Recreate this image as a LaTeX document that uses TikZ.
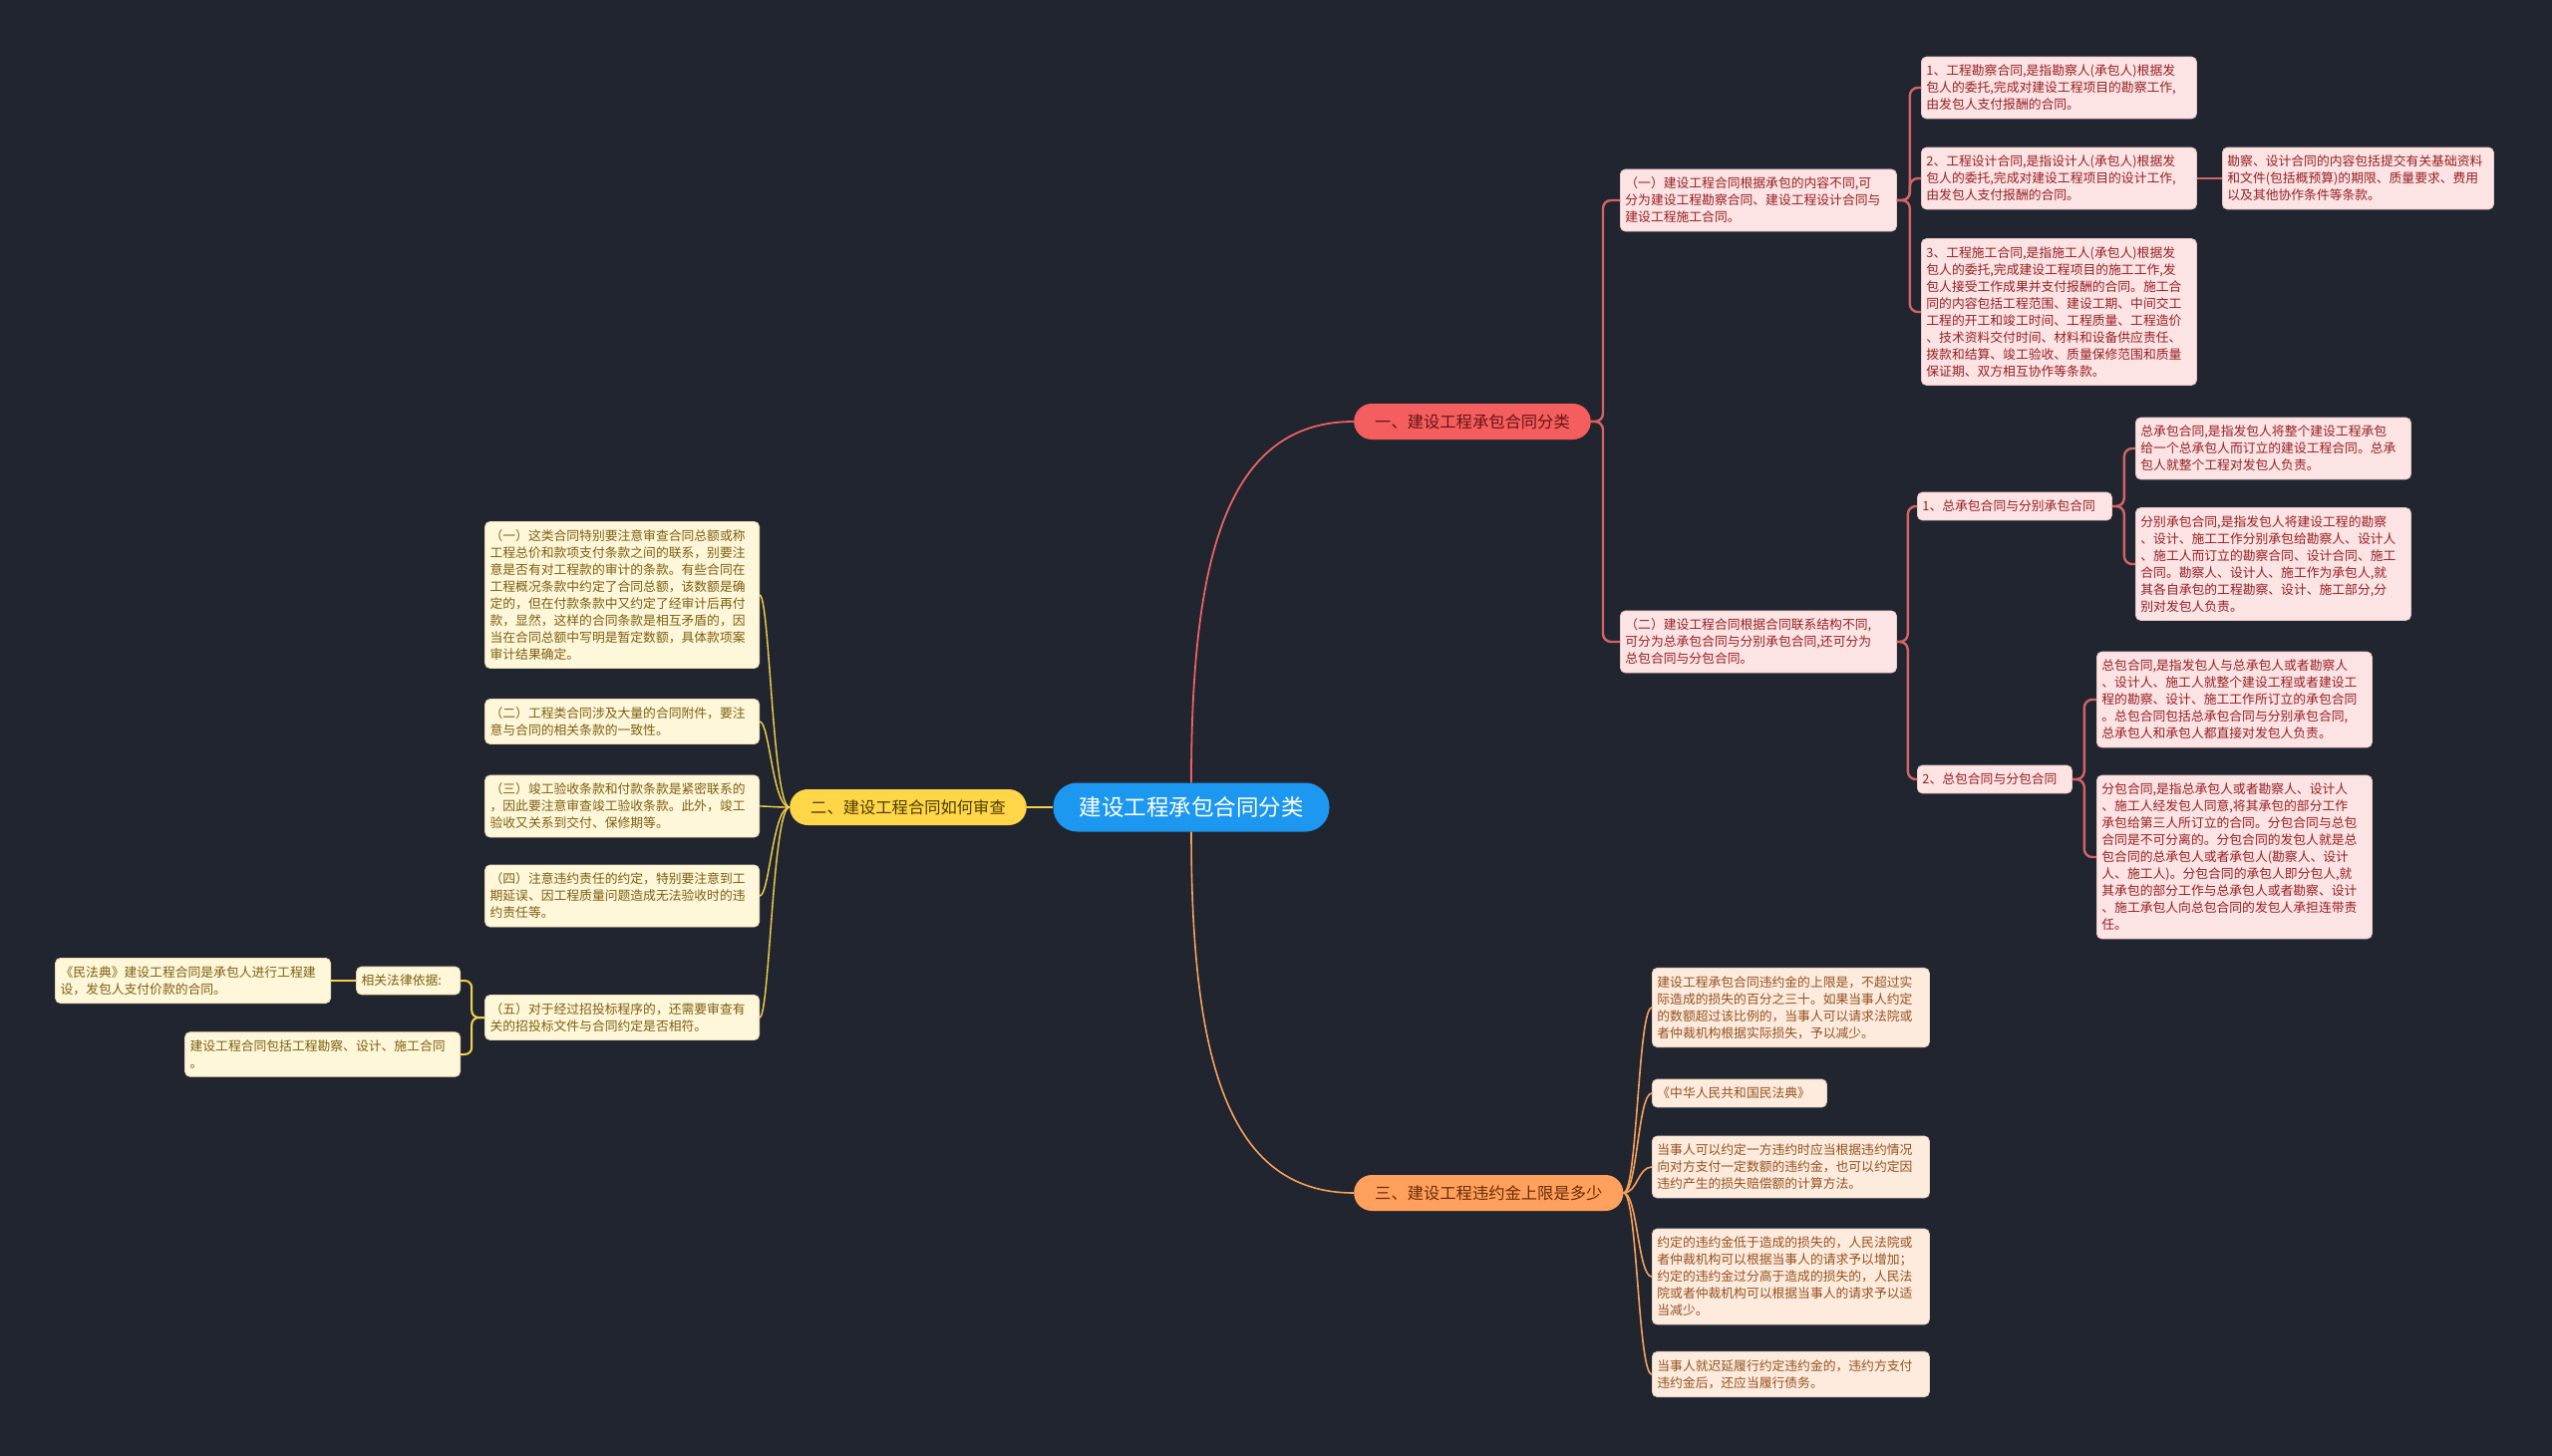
\documentclass[tikz,border=0pt]{standalone}
\usepackage{fontspec}
\setmainfont{Noto Sans CJK SC}
\definecolor{bg}{RGB}{33,37,48}
\definecolor{centerfill}{RGB}{28,152,240}
\definecolor{redpill}{RGB}{245,94,94}
\definecolor{yellowpill}{RGB}{255,214,72}
\definecolor{orangepill}{RGB}{255,160,92}
\definecolor{redpilltext}{RGB}{105,20,20}
\definecolor{yellowpilltext}{RGB}{80,60,0}
\definecolor{orangepilltext}{RGB}{105,45,5}
\definecolor{pinkfill}{RGB}{253,228,228}
\definecolor{pinkedge}{RGB}{235,200,200}
\definecolor{redtext}{RGB}{150,30,35}
\definecolor{creamfill}{RGB}{255,247,218}
\definecolor{creamedge}{RGB}{235,220,180}
\definecolor{yellowtext}{RGB}{125,95,15}
\definecolor{peachfill}{RGB}{253,236,222}
\definecolor{peachedge}{RGB}{235,210,190}
\definecolor{orangetext}{RGB}{150,80,30}
\definecolor{lineR}{RGB}{235,96,96}
\definecolor{lineRb}{RGB}{212,100,100}
\definecolor{lineY}{RGB}{245,210,75}
\definecolor{lineO}{RGB}{245,160,90}
\tikzset{
  basebox/.style={rounded corners=5pt, inner xsep=5pt, inner ysep=8pt, align=left,
    font=\fontsize{12.8}{17}\selectfont, anchor=west, line width=0.8pt},
  leafR/.style={basebox, fill=pinkfill, draw=pinkedge, text=redtext},
  leafY/.style={basebox, fill=creamfill, draw=creamedge, text=yellowtext},
  leafO/.style={basebox, fill=peachfill, draw=peachedge, text=orangetext},
  pillbox/.style={rounded corners=18pt, inner xsep=21pt, inner ysep=0pt, minimum height=36pt,
    font=\fontsize{16.3}{18}\selectfont},
  centerbox/.style={rounded corners=24pt, inner xsep=26pt, inner ysep=0pt, minimum height=49pt,
    font=\fontsize{22.5}{24}\selectfont, fill=centerfill, text=white},
  cR/.style={draw=lineR, line width=1.8pt},
  cRb/.style={draw=lineRb, line width=2.4pt, rounded corners=8pt},
  cY/.style={draw=lineY, line width=1.4pt},
  cYb/.style={draw=lineY, line width=2pt, rounded corners=7pt},
  cO/.style={draw=lineO, line width=1.6pt}
}
\begin{document}
\begin{tikzpicture}[x=1pt,y=-1pt]
\fill[bg] (0,0) rectangle (2560,1461);
\useasboundingbox (0,0) rectangle (2560,1461);

% main nodes
\node[centerbox] (C) at (1195,810) {建设工程承包合同分类};
\node[pillbox, fill=redpill, text=redpilltext, anchor=west] (R) at (1358,423) {一、建设工程承包合同分类};
\node[pillbox, fill=yellowpill, text=yellowpilltext, anchor=east] (Y) at (1030,810) {二、建设工程合同如何审查};
\node[pillbox, fill=orangepill, text=orangepilltext, anchor=west] (O) at (1358,1197) {三、建设工程违约金上限是多少};

% branch 1
\node[leafR, text width=267pt] (A1) at (1625,201) {（一）建设工程合同根据承包的内容不同,可\\分为建设工程勘察合同、建设工程设计合同与\\建设工程施工合同。};
\node[leafR, text width=267pt] (A2) at (1625,644) {（二）建设工程合同根据合同联系结构不同,\\可分为总承包合同与分别承包合同,还可分为\\总包合同与分包合同。};
\node[leafR, text width=266pt] (L1) at (1927,88) {1、工程勘察合同,是指勘察人(承包人)根据发\\包人的委托,完成对建设工程项目的勘察工作,\\由发包人支付报酬的合同。};
\node[leafR, text width=266pt] (L2) at (1927,179) {2、工程设计合同,是指设计人(承包人)根据发\\包人的委托,完成对建设工程项目的设计工作,\\由发包人支付报酬的合同。};
\node[leafR, text width=266pt] (L3) at (1927,313) {3、工程施工合同,是指施工人(承包人)根据发\\包人的委托,完成建设工程项目的施工工作,发\\包人接受工作成果并支付报酬的合同。施工合\\同的内容包括工程范围、建设工期、中间交工\\工程的开工和竣工时间、工程质量、工程造价\\、技术资料交付时间、材料和设备供应责任、\\拨款和结算、竣工验收、质量保修范围和质量\\保证期、双方相互协作等条款。};
\node[leafR, text width=262pt] (L2a) at (2229,179) {勘察、设计合同的内容包括提交有关基础资料\\和文件(包括概预算)的期限、质量要求、费用\\以及其他协作条件等条款。};
\node[leafR, text width=185pt] (B1) at (1923,508) {1、总承包合同与分别承包合同};
\node[leafR, text width=145pt] (B2) at (1923,782) {2、总包合同与分包合同};
\node[leafR, text width=266pt] (B1a) at (2142,450) {总承包合同,是指发包人将整个建设工程承包\\给一个总承包人而订立的建设工程合同。总承\\包人就整个工程对发包人负责。};
\node[leafR, text width=266pt] (B1b) at (2142,566) {分别承包合同,是指发包人将建设工程的勘察\\、设计、施工工作分别承包给勘察人、设计人\\、施工人而订立的勘察合同、设计合同、施工\\合同。勘察人、设计人、施工作为承包人,就\\其各自承包的工程勘察、设计、施工部分,分\\别对发包人负责。};
\node[leafR, text width=266pt] (B2a) at (2103,702) {总包合同,是指发包人与总承包人或者勘察人\\、设计人、施工人就整个建设工程或者建设工\\程的勘察、设计、施工工作所订立的承包合同\\。总包合同包括总承包合同与分别承包合同,\\总承包人和承包人都直接对发包人负责。};
\node[leafR, text width=266pt] (B2b) at (2103,860) {分包合同,是指总承包人或者勘察人、设计人\\、施工人经发包人同意,将其承包的部分工作\\承包给第三人所订立的合同。分包合同与总包\\合同是不可分离的。分包合同的发包人就是总\\包合同的总承包人或者承包人(勘察人、设计\\人、施工人)。分包合同的承包人即分包人,就\\其承包的部分工作与总承包人或者勘察、设计\\、施工承包人向总包合同的发包人承担连带责\\任。};

% branch 3
\node[leafO, text width=268pt] (C1) at (1657,1011) {建设工程承包合同违约金的上限是，不超过实\\际造成的损失的百分之三十。如果当事人约定\\的数额超过该比例的，当事人可以请求法院或\\者仲裁机构根据实际损失，予以减少。};
\node[leafO, text width=165pt] (C2) at (1657,1097) {《中华人民共和国民法典》};
\node[leafO, text width=268pt] (C3) at (1657,1171) {当事人可以约定一方违约时应当根据违约情况\\向对方支付一定数额的违约金，也可以约定因\\违约产生的损失赔偿额的计算方法。};
\node[leafO, text width=268pt] (C4) at (1657,1281) {约定的违约金低于造成的损失的，人民法院或\\者仲裁机构可以根据当事人的请求予以增加；\\约定的违约金过分高于造成的损失的，人民法\\院或者仲裁机构可以根据当事人的请求予以适\\当减少。};
\node[leafO, text width=268pt] (C5) at (1657,1379) {当事人就迟延履行约定违约金的，违约方支付\\违约金后，还应当履行债务。};

% branch 2
\node[leafY, text width=265pt, anchor=east] (D1) at (762,597) {（一）这类合同特别要注意审查合同总额或称\\工程总价和款项支付条款之间的联系，别要注\\意是否有对工程款的审计的条款。有些合同在\\工程概况条款中约定了合同总额，该数额是确\\定的，但在付款条款中又约定了经审计后再付\\款，显然，这样的合同条款是相互矛盾的，因\\当在合同总额中写明是暂定数额，具体款项案\\审计结果确定。};
\node[leafY, text width=265pt, anchor=east] (D2) at (762,724) {（二）工程类合同涉及大量的合同附件，要注\\意与合同的相关条款的一致性。};
\node[leafY, text width=265pt, anchor=east] (D3) at (762,809) {（三）竣工验收条款和付款条款是紧密联系的\\，因此要注意审查竣工验收条款。此外，竣工\\验收又关系到交付、保修期等。};
\node[leafY, text width=265pt, anchor=east] (D4) at (762,899) {（四）注意违约责任的约定，特别要注意到工\\期延误、因工程质量问题造成无法验收时的违\\约责任等。};
\node[leafY, text width=265pt, anchor=east] (D5) at (762,1021) {（五）对于经过招投标程序的，还需要审查有\\关的招投标文件与合同约定是否相符。};
\node[leafY, text width=94pt, anchor=east] (E1) at (462,984) {相关法律依据:};
\node[leafY, text width=266pt, anchor=east] (E2) at (462,1058) {建设工程合同包括工程勘察、设计、施工合同\\。};
\node[leafY, text width=266pt, anchor=east] (E1a) at (332,984) {《民法典》建设工程合同是承包人进行工程建\\设，发包人支付价款的合同。};

% connectors
\draw[cR] (C.north) .. controls +(0,-225) and +(-128,0) .. (R.west);
\draw[cO] (C.south) .. controls +(0,225) and +(-128,0) .. (O.west);
\draw[cY] (C.west) -- (Y.east);

\foreach \n in {A1,A2} \draw[cRb] (R.east) -- ++(12,0) |- (\n.west);
\foreach \n in {L1,L2,L3} \draw[cRb] (A1.east) -- ++(13,0) |- (\n.west);
\draw[cRb] (L2.east) -- (L2a.west);
\foreach \n in {B1,B2} \draw[cRb] (A2.east) -- ++(11,0) |- (\n.west);
\foreach \n in {B1a,B1b} \draw[cRb] (B1.east) -- ++(12,0) |- (\n.west);
\foreach \n in {B2a,B2b} \draw[cRb] (B2.east) -- ++(12,0) |- (\n.west);

\foreach \n in {D1,D2,D3,D4,D5} \draw[cY] (Y.west) .. controls +(-17,0) and +(10,0) .. (\n.east);
\foreach \n in {E1,E2} \draw[cYb] (D5.west) -- ++(-13,0) |- (\n.east);
\draw[cYb] (E1.west) -- (E1a.east);

\foreach \n in {C1,C2,C3,C4,C5} \draw[cO] (O.east) .. controls +(14,0) and +(-14,0) .. (\n.west);
\end{tikzpicture}
\end{document}
